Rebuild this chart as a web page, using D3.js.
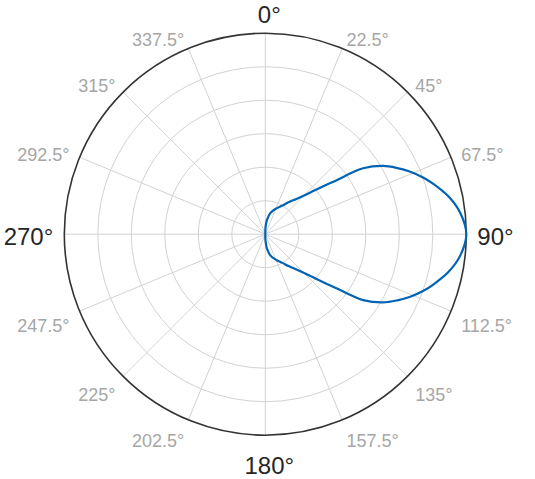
<!DOCTYPE html>
<html>
<head>
<meta charset="utf-8">
<script src="https://cdn.jsdelivr.net/npm/d3@7"></script>
<style>
  html, body { margin: 0; padding: 0; background: #fff; }
  svg { display: block; font-family: "Liberation Sans", Arial, Helvetica, sans-serif; }
</style>
</head>
<body>
<div id="chart"></div>
<script>
// angles in degrees (clockwise from 0 at top), radius normalised to the outer ring
const thetaDeg = [0, 2, 6.7, 13.3, 21.6, 30.4, 36, 41, 47, 50.5, 53, 54.6, 56, 59.9, 63.4, 66.5, 70.2, 73.1, 78.4, 83.8, 90,
  96.2, 101.6, 106.9, 109.8, 113.5, 116.6, 120.1, 124, 125.4, 127, 129.5, 133, 139, 144, 149.6, 158.4, 166.7, 173.3, 178, 180]
const rho = [0, 0.035, 0.072, 0.108, 0.135, 0.164, 0.196, 0.231, 0.303, 0.377, 0.451, 0.527, 0.587, 0.677, 0.735, 0.783, 0.834, 0.87, 0.931, 0.976, 1,
  0.976, 0.931, 0.87, 0.834, 0.783, 0.735, 0.677, 0.587, 0.527, 0.451, 0.377, 0.303, 0.231, 0.196, 0.164, 0.135, 0.108, 0.072, 0.035, 0]

const ringTicks = [0.1667, 0.3333, 0.5, 0.6667, 0.8333, 1]
const spokeAngles = [0, 22.5, 45, 67.5, 90, 112.5, 135, 157.5, 180, 202.5, 225, 247.5, 270, 292.5, 315, 337.5]
const majorLabels = [0, 90, 180, 270]

const width = 535, height = 479
const cx = 265.3, cy = 234.2, R = 201

const svg = d3.select('#chart').append('svg')
  .attr('width', width)
  .attr('height', height)

const g = svg.append('g').attr('transform', `translate(${cx},${cy})`)

const rScale = d3.scaleLinear().domain([0, 1]).range([0, R])
const toRad = d => d * Math.PI / 180

// rings
g.selectAll('circle.ring')
  .data(ringTicks.slice(0, -1))
  .join('circle')
    .attr('class', 'ring')
    .attr('r', d => rScale(d))
    .attr('fill', 'none')
    .attr('stroke', '#d2d2d2')
    .attr('stroke-width', 1)

// spokes
g.selectAll('line.spoke')
  .data(spokeAngles)
  .join('line')
    .attr('class', 'spoke')
    .attr('x1', 0).attr('y1', 0)
    .attr('x2', d => rScale(1) * Math.sin(toRad(d)))
    .attr('y2', d => -rScale(1) * Math.cos(toRad(d)))
    .attr('stroke', '#d2d2d2')
    .attr('stroke-width', 1)

// outer ring
g.append('circle')
  .attr('r', rScale(ringTicks[ringTicks.length - 1]))
  .attr('fill', 'none')
  .attr('stroke', '#333')
  .attr('stroke-width', 1.6)

// curve
const pts = thetaDeg.map((t, i) => [toRad(t), rScale(rho[i])])
const line = d3.lineRadial()
  .angle(d => d[0])
  .radius(d => d[1])
  .curve(d3.curveCatmullRom.alpha(0.5))

g.append('path')
  .datum(pts)
  .attr('d', line)
  .attr('fill', 'none')
  .attr('stroke', '#0063b4')
  .attr('stroke-width', 2.2)
  .attr('stroke-linejoin', 'round')

// theta labels
const Ra = 212
g.selectAll('text.tlabel')
  .data(spokeAngles)
  .join('text')
    .attr('class', 'tlabel')
    .each(function(d) {
      const big = majorLabels.includes(d)
      const s = Math.sin(toRad(d)), c = Math.cos(toRad(d))
      let x = Ra * s, y = -Ra * c
      let anchor = 'middle'
      if (s > 0.01) anchor = 'start'
      else if (s < -0.01) anchor = 'end'
      if (anchor === 'middle') x += 4
      if (c > 0.99) y -= 8
      else if (c < -0.99) y += 19
      else if (c < -0.01) y += 11
      else if (c > 0.01) y += 1.5
      else y += 2
      d3.select(this)
        .attr('x', x)
        .attr('y', y)
        .attr('text-anchor', anchor)
        .attr('dominant-baseline', 'central')
        .attr('font-size', big ? 24 : 18)
        .attr('fill', big ? '#262626' : '#a6a6a6')
        .text(`${d}°`)
    })
</script>
</body>
</html>
